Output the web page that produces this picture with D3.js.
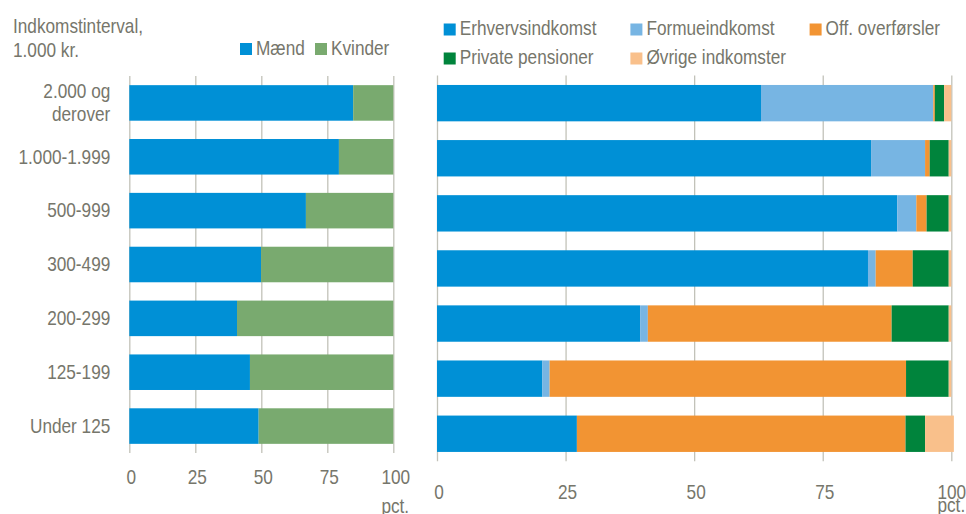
<!DOCTYPE html>
<html>
<head>
<meta charset="utf-8">
<script src="https://cdnjs.cloudflare.com/ajax/libs/d3/7.8.5/d3.min.js"></script>
<style>
  body { margin: 0; background: #fff; }
  svg text { font-family: "Liberation Sans", Arial, sans-serif; font-size: 21px; fill: #76766b; }
  .grid line { stroke: #c2c2b9; stroke-width: 1.3; }
  .grid .domain { display: none; }
</style>
</head>
<body>
<div id="chart"></div>
<script>
// income intervals, top to bottom
var categories = ["2.000 og derover", "1.000-1.999", "500-999", "300-499", "200-299", "125-199", "Under 125"];
// left panel, share of men / women (pct.)
var maend   = [84.8, 79.4, 66.9, 49.9, 40.8, 45.7, 49.0];
var kvinder = [15.2, 20.6, 33.1, 50.1, 59.2, 54.3, 51.0];
// right panel, income composition (pct.)
var erhverv     = [63.0, 84.4, 89.5, 83.8, 39.5, 20.5, 27.2];
var formue      = [33.5, 10.5, 3.7, 1.5, 1.5, 1.4, 0.0];
var overforsler = [0.3, 0.9, 2.0, 7.2, 47.4, 69.3, 63.9];
var pensioner   = [1.8, 3.7, 4.3, 7.0, 11.1, 8.3, 3.8];
var ovrige      = [1.4, 0.5, 0.5, 0.5, 0.5, 0.5, 5.6];
var xTicks = [0, 25, 50, 75, 100];

var leftKeys = ["Mænd", "Kvinder"];
var leftColors = ["#0090d6", "#79aa6f"];
var rightKeys = ["Erhvervsindkomst", "Formueindkomst", "Off. overførsler", "Private pensioner", "Øvrige indkomster"];
var rightColors = ["#0090d6", "#77b5e3", "#f29433", "#00843c", "#f9c08b"];

var leftData = categories.map(function(c, i) {
  return { site: c, "Mænd": maend[i], "Kvinder": kvinder[i] };
});
var rightData = categories.map(function(c, i) {
  return { site: c, "Erhvervsindkomst": erhverv[i], "Formueindkomst": formue[i],
           "Off. overførsler": overforsler[i], "Private pensioner": pensioner[i], "Øvrige indkomster": ovrige[i] };
});

// no narrow font installed -> squeeze text horizontally around its anchor x
var SQ = 0.82;
function squeeze(sel, ax) {
  sel.each(function() {
    var t = d3.select(this);
    var x = (ax != null) ? ax : (+t.attr("x") || 0);
    t.attr("transform", "translate(" + x + ",0) scale(" + SQ + ",1) translate(" + (-x) + ",0)");
  });
}

var svg = d3.select("#chart").append("svg")
    .attr("width", 966)
    .attr("height", 514);

function panel(data, keys, colors, x0, x1, y0, y1, tickPad, pctY, lastDx) {
  var xScale = d3.scaleLinear().domain([0, 100]).range([x0, x1]);
  var yScale = d3.scaleBand().domain(categories).range([y0, y1])
      .paddingInner(0.34).paddingOuter(0.17);

  // gridlines + tick labels
  var xAxis = d3.axisBottom(xScale).tickValues(xTicks).tickSize(-(y1 - y0)).tickPadding(tickPad);
  var g = svg.append("g")
      .attr("class", "grid")
      .attr("transform", "translate(0," + y1 + ")")
      .call(xAxis);
  g.selectAll("text")
      .attr("x", function(d) { return d == 100 ? lastDx : 1.5; })
      .call(squeeze);

  var layers = d3.stack().keys(keys).offset(d3.stackOffsetNone)(data);

  var layer = svg.selectAll(null)
      .data(layers)
      .enter().append("g")
      .style("fill", function(d, i) { return colors[i]; });

  layer.selectAll("rect")
      .data(function(d) { return d; })
      .enter().append("rect")
        .attr("y", function(d) { return yScale(d.data.site); })
        .attr("x", function(d) { return xScale(d[0]); })
        .attr("height", yScale.bandwidth())
        .attr("width", function(d) { return Math.max(0, xScale(d[1]) - xScale(d[0])); });

  // "pct." under the last tick
  svg.append("text")
      .attr("x", xScale(100) + lastDx)
      .attr("y", pctY)
      .style("text-anchor", "middle")
      .text("pct.")
      .call(squeeze);

  return yScale;
}

var yL = panel(leftData, leftKeys, leftColors, 129.3, 393.3, 76, 453, 16, 513, 2);
panel(rightData, rightKeys, rightColors, 437, 951.3, 75.6, 461.3, 23, 512, 0);

// category labels (left of left panel)
var yAxis = d3.axisLeft(yL).tickSize(0).tickPadding(19);
var yg = svg.append("g")
    .attr("transform", "translate(129.3,0)")
    .call(yAxis);
yg.select(".domain").remove();
yg.selectAll(".tick text").each(function(d) {
  var t = d3.select(this);
  if (d.indexOf(" og ") > 0) {
    var parts = d.split(" og ");
    t.text(null).attr("dy", null);
    t.append("tspan").attr("x", -19).attr("y", -5).text(parts[0] + " og");
    t.append("tspan").attr("x", -19).attr("y", 18).text(parts[1]);
  }
}).call(squeeze, -19);

// axis title
svg.append("text").attr("x", 13).attr("y", 33).text("Indkomstinterval,").call(squeeze);
svg.append("text").attr("x", 13).attr("y", 57).text("1.000 kr.").call(squeeze);

// legends
var legL = svg.selectAll(".legL").data(leftKeys).enter().append("g")
    .attr("transform", function(d, i) { return "translate(" + [240, 315][i] + ",43)"; });
legL.append("rect").attr("width", 12).attr("height", 12)
    .style("fill", function(d, i) { return leftColors[i]; });
legL.append("text").attr("x", 16).attr("y", 11.5).text(function(d) { return d; }).call(squeeze);

var legPos = [[443.7, 23.5], [630.4, 23.5], [809.6, 23.5], [443.7, 52.5], [630.4, 52.5]];
var legR = svg.selectAll(".legR").data(rightKeys).enter().append("g")
    .attr("transform", function(d, i) { return "translate(" + legPos[i] + ")"; });
legR.append("rect").attr("width", 12).attr("height", 12)
    .style("fill", function(d, i) { return rightColors[i]; });
legR.append("text").attr("x", 16).attr("y", 11.5).text(function(d) { return d; }).call(squeeze);
</script>
</body>
</html>
